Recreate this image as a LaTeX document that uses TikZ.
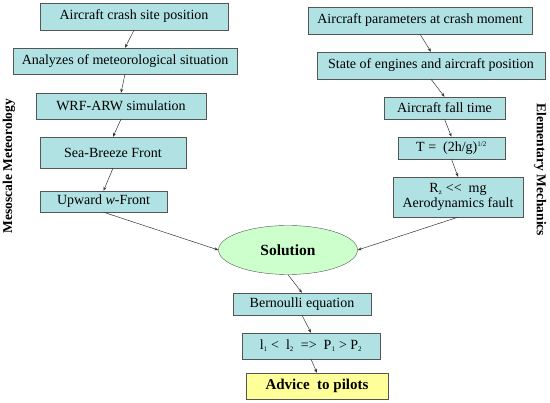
\documentclass[tikz,border=0pt]{standalone}
\usepackage{fontspec}
\setmainfont{Liberation Serif}
\usepackage{tikz}
\usetikzlibrary{arrows.meta, shapes.geometric}
\definecolor{boxcyan}{HTML}{B0E2E4}
\definecolor{solgreen}{HTML}{CCFFCC}
\definecolor{advyellow}{HTML}{FFFF99}
\definecolor{edgegray}{HTML}{555555}
\tikzset{
  stepbox/.style={draw=edgegray, fill=boxcyan, inner sep=0pt, font=\fontsize{14}{16}\selectfont, align=center},
  arr/.style={draw=black!80, line width=0.5pt, -{Stealth[length=4pt, width=3pt]}},
  sidelabel/.style={font=\fontsize{13.5}{15}\selectfont\bfseries}
}

\begin{document}
\begin{tikzpicture}[x=1pt, y=-1pt]
\useasboundingbox (0,0) rectangle (550,403);
\node[stepbox, minimum width=188, minimum height=27] (L1) at (134,16.5) {Aircraft crash site position};
\node[stepbox, minimum width=224, minimum height=26] (L2) at (125,61) {Analyzes of meteorological situation};
\node[stepbox, minimum width=170, minimum height=26] (L3) at (121,106) {WRF-ARW simulation};
\node[stepbox, minimum width=146, minimum height=31] (L4) at (113,152.5) {Sea-Breeze Front};
\node[stepbox, minimum width=127, minimum height=21] (L5) at (103.5,201.5) {Upward \textit{w}-Front};
\node[stepbox, minimum width=224, minimum height=27] (R1) at (420,20.5) {Aircraft parameters at crash moment};
\node[stepbox, minimum width=228, minimum height=27] (R2) at (431,65.5) {State of engines and aircraft position};
\node[stepbox, minimum width=121, minimum height=22] (R3) at (444.5,108) {Aircraft fall time};
\node[stepbox, minimum width=107, minimum height=22] (R4) at (451.5,148) {T =\ \ (2h/g)\textsuperscript{\scriptsize 1/2}};
\node[stepbox, minimum width=130, minimum height=40] (R5) at (458,197) {R\textsubscript{\scriptsize z} <\kern0pt<\ \ mg\\[-1pt]Aerodynamics fault};
\node[ellipse, draw=edgegray, fill=solgreen, minimum width=139, minimum height=49, inner sep=0pt,
  font=\fontsize{15.5}{17}\selectfont\bfseries] (Sol) at (288,250) {Solution};
\node[stepbox, minimum width=138, minimum height=22] (B1) at (302,304) {Bernoulli equation};
\node[stepbox, minimum width=138, minimum height=26] (B2) at (311,346) {l\textsubscript{\scriptsize 1} <\ \ l\textsubscript{\scriptsize 2}\ \ =>\ \ P\textsubscript{\scriptsize 1} > P\textsubscript{\scriptsize 2}};
\node[stepbox, fill=advyellow, minimum width=142, minimum height=26, font=\fontsize{15}{17}\selectfont\bfseries] (Adv) at (317,386) {Advice\ \ to pilots};
\node[sidelabel, rotate=90] (meso) at (9,166) {Mesoscale Meteorology};
\node[sidelabel, rotate=-90] (mech) at (540,170) {Elementary Mechanics};
\foreach \a/\b in {L1/L2, L2/L3, L3/L4, L4/L5, R1/R2, R2/R3, R3/R4, R4/R5, Sol/B1, B1/B2, B2/Adv}
  {\draw[arr] (\a.south) -- (\b.north);}
\draw[arr] (L5.south) -- (Sol.west);
\draw[arr] (R5.south) -- (Sol.east);
\end{tikzpicture}
\end{document}
